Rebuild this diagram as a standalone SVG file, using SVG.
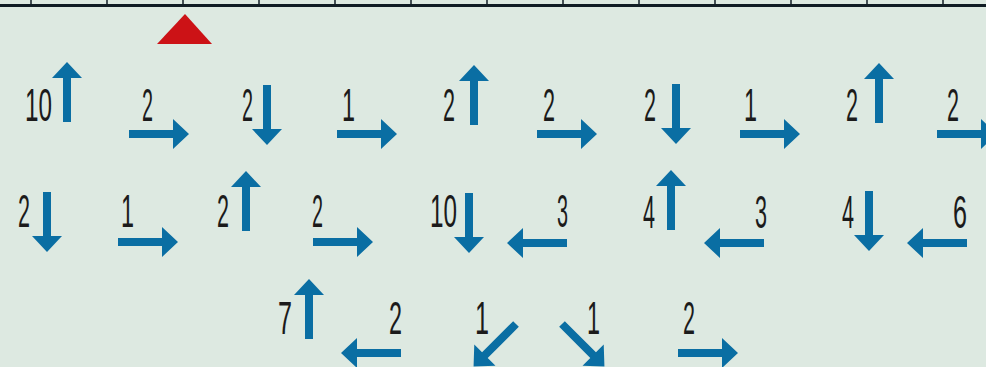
<svg xmlns="http://www.w3.org/2000/svg" xmlns:xlink="http://www.w3.org/1999/xlink" width="986" height="367" viewBox="0 0 986 367">
<style>
.lbl{font-family:"Liberation Sans","DejaVu Sans",sans-serif;font-size:46px;fill:#1b1b1b;}
.arr{fill:#0a6ea3;}
.tick{stroke:#101c24;stroke-width:1.5;}
</style>
<defs>
<path id="a" d="M0,-4 H44 V-15 L60,0 L44,15 V4 H0 Z"/>
</defs>
<rect x="0" y="0" width="986" height="367" fill="#dde9e1"/>
<g id="ruler">
<rect x="0" y="4" width="986" height="3" fill="#101c24"/>
<g class="tick">
<line x1="31" y1="0" x2="31" y2="5"/><line x1="107" y1="0" x2="107" y2="5"/><line x1="183" y1="0" x2="183" y2="5"/><line x1="259" y1="0" x2="259" y2="5"/><line x1="335" y1="0" x2="335" y2="5"/><line x1="411" y1="0" x2="411" y2="5"/><line x1="487" y1="0" x2="487" y2="5"/><line x1="563" y1="0" x2="563" y2="5"/><line x1="639" y1="0" x2="639" y2="5"/><line x1="715" y1="0" x2="715" y2="5"/><line x1="791" y1="0" x2="791" y2="5"/><line x1="867" y1="0" x2="867" y2="5"/><line x1="943" y1="0" x2="943" y2="5"/>
</g>
</g>
<g id="marker"><polygon points="157,44 185,14 212,44" fill="#cc1216"/></g>
<g id="connectors" class="arr">
<use xlink:href="#a" transform="translate(67,122) rotate(-90)"/>
<use xlink:href="#a" transform="translate(129,134)"/>
<use xlink:href="#a" transform="translate(267,85) rotate(90)"/>
<use xlink:href="#a" transform="translate(337,134)"/>
<use xlink:href="#a" transform="translate(474,125) rotate(-90)"/>
<use xlink:href="#a" transform="translate(537,134)"/>
<use xlink:href="#a" transform="translate(676,84) rotate(90)"/>
<use xlink:href="#a" transform="translate(740,134)"/>
<use xlink:href="#a" transform="translate(879,123) rotate(-90)"/>
<use xlink:href="#a" transform="translate(937,134)"/>
<use xlink:href="#a" transform="translate(47,192) rotate(90)"/>
<use xlink:href="#a" transform="translate(118,242)"/>
<use xlink:href="#a" transform="translate(246,231) rotate(-90)"/>
<use xlink:href="#a" transform="translate(313,242)"/>
<use xlink:href="#a" transform="translate(469,193) rotate(90)"/>
<use xlink:href="#a" transform="translate(567,243) rotate(180)"/>
<use xlink:href="#a" transform="translate(671,230) rotate(-90)"/>
<use xlink:href="#a" transform="translate(764,243) rotate(180)"/>
<use xlink:href="#a" transform="translate(869,191) rotate(90)"/>
<use xlink:href="#a" transform="translate(967,243) rotate(180)"/>
<use xlink:href="#a" transform="translate(309,339) rotate(-90)"/>
<use xlink:href="#a" transform="translate(401,353) rotate(180)"/>
<use xlink:href="#a" transform="translate(516,324) rotate(135)"/>
<use xlink:href="#a" transform="translate(562,324) rotate(45)"/>
<use xlink:href="#a" transform="translate(678,353)"/>
</g>
<g class="lbl">
<g id="n1"><text x="25" y="121" textLength="27" lengthAdjust="spacingAndGlyphs">10</text></g>
<g id="n2"><text x="142" y="121" textLength="11" lengthAdjust="spacingAndGlyphs">2</text></g>
<g id="n3"><text x="242" y="121" textLength="11" lengthAdjust="spacingAndGlyphs">2</text></g>
<g id="n4"><text x="342" y="121" textLength="13" lengthAdjust="spacingAndGlyphs">1</text></g>
<g id="n5"><text x="443" y="121" textLength="12" lengthAdjust="spacingAndGlyphs">2</text></g>
<g id="n6"><text x="543" y="121" textLength="12" lengthAdjust="spacingAndGlyphs">2</text></g>
<g id="n7"><text x="644" y="121" textLength="12" lengthAdjust="spacingAndGlyphs">2</text></g>
<g id="n8"><text x="744" y="121" textLength="13" lengthAdjust="spacingAndGlyphs">1</text></g>
<g id="n9"><text x="846" y="121" textLength="12" lengthAdjust="spacingAndGlyphs">2</text></g>
<g id="n10"><text x="947" y="121" textLength="12" lengthAdjust="spacingAndGlyphs">2</text></g>
<g id="n11"><text x="18" y="227" textLength="12" lengthAdjust="spacingAndGlyphs">2</text></g>
<g id="n12"><text x="121" y="227" textLength="13" lengthAdjust="spacingAndGlyphs">1</text></g>
<g id="n13"><text x="217" y="227" textLength="12" lengthAdjust="spacingAndGlyphs">2</text></g>
<g id="n14"><text x="312" y="227" textLength="11" lengthAdjust="spacingAndGlyphs">2</text></g>
<g id="n15"><text x="430" y="227" textLength="27" lengthAdjust="spacingAndGlyphs">10</text></g>
<g id="n16"><text x="557" y="227" textLength="11" lengthAdjust="spacingAndGlyphs">3</text></g>
<g id="n17"><text x="643" y="228" textLength="12" lengthAdjust="spacingAndGlyphs">4</text></g>
<g id="n18"><text x="755" y="228" textLength="12" lengthAdjust="spacingAndGlyphs">3</text></g>
<g id="n19"><text x="842" y="228" textLength="12" lengthAdjust="spacingAndGlyphs">4</text></g>
<g id="n20"><text x="953" y="228" textLength="14" lengthAdjust="spacingAndGlyphs">6</text></g>
<g id="n21"><text x="278" y="334" textLength="14" lengthAdjust="spacingAndGlyphs">7</text></g>
<g id="n22"><text x="389" y="334" textLength="13" lengthAdjust="spacingAndGlyphs">2</text></g>
<g id="n23"><text x="475" y="334" textLength="14" lengthAdjust="spacingAndGlyphs">1</text></g>
<g id="n24"><text x="587" y="334" textLength="13" lengthAdjust="spacingAndGlyphs">1</text></g>
<g id="n25"><text x="683" y="334" textLength="12" lengthAdjust="spacingAndGlyphs">2</text></g>
</g>
</svg>
